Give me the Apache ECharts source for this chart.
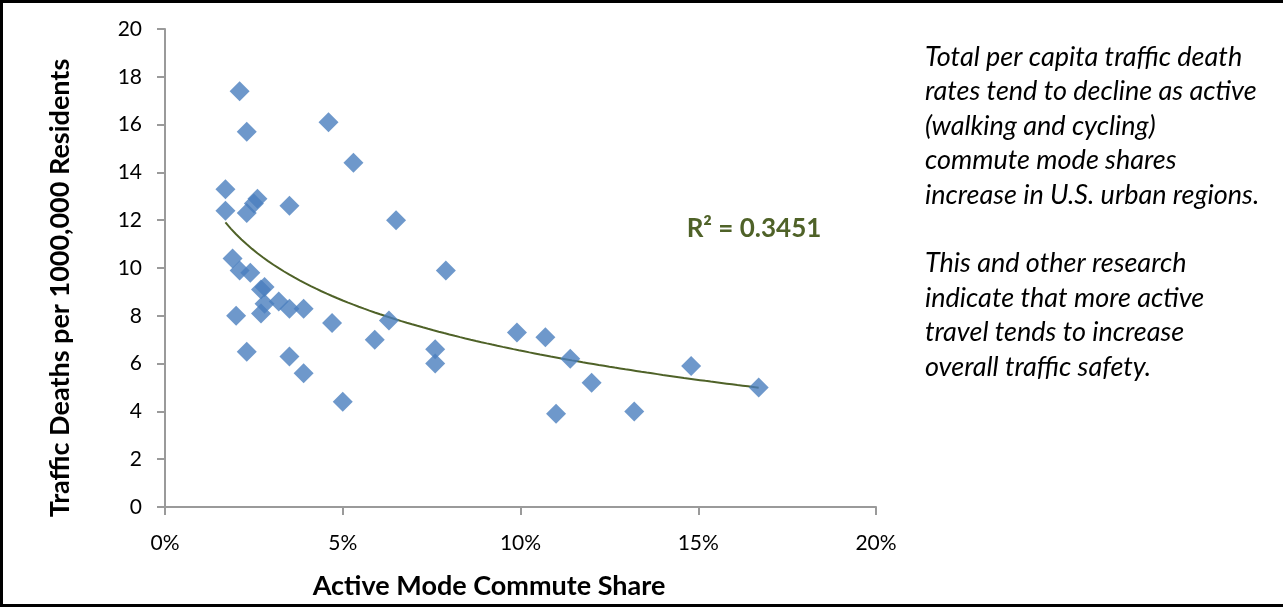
<!DOCTYPE html>
<html>
<head>
<meta charset="utf-8">
<script src="https://cdn.jsdelivr.net/npm/echarts@6/dist/echarts.min.js"></script>
<style>
html,body{margin:0;padding:0;background:#fff;}
#chart{width:1283px;height:609px;}
</style>
</head>
<body>
<div id="chart"></div>
<script>
// Active mode commute share (%) and traffic deaths per 1,000,000 residents
const shareValues = [2.1,2.3,4.6,5.3,1.7,1.7,2.6,2.5,2.3,3.5,6.5,1.9,2.1,2.4,2.8,2.7,7.9,2.8,3.2,3.5,3.9,2.7,2.0,4.7,6.3,5.9,2.3,3.5,3.9,5.0,9.9,10.7,7.6,7.6,11.4,12.0,11.0,13.2,14.8,16.7];
const deathValues = [17.4,15.7,16.1,14.4,13.3,12.4,12.9,12.7,12.3,12.6,12.0,10.4,9.9,9.8,9.2,9.1,9.9,8.5,8.6,8.3,8.3,8.1,8.0,7.7,7.8,7.0,6.5,6.3,5.6,4.4,7.3,7.1,6.6,6.0,6.2,5.2,3.9,4.0,5.9,5.0];
const xTicks = [0,5,10,15,20];
const yTicks = [0,2,4,6,8,10,12,14,16,18,20];
const rSquaredLabel = 'R² = 0.3451';
const yTitle = 'Traffic Deaths per 1000,000 Residents';
const xTitle = 'Active Mode Commute Share';
const noteLines = [
  'Total per capita traffic death',
  'rates tend to decline as active',
  '(walking and cycling)',
  'commute mode shares',
  'increase in U.S. urban regions.',
  '',
  'This and other research',
  'indicate that more active',
  'travel tends to increase',
  'overall traffic safety.'
];

const points = shareValues.map((x, i) => [x, deathValues[i]]);

// logarithmic least-squares trendline y = a*ln(x) + b, computed from the data
const n = points.length;
let sx = 0, sy = 0, sxx = 0, sxy = 0;
points.forEach(([x, y]) => { const l = Math.log(x); sx += l; sy += y; sxx += l*l; sxy += l*y; });
const a = (n*sxy - sx*sy) / (n*sxx - sx*sx);
const b = (sy - a*sx) / n;
const xMin = Math.min(...shareValues), xMax = Math.max(...shareValues);
const trend = [];
for (let i = 0; i <= 100; i++) {
  const x = xMin + (xMax - xMin) * i / 100;
  trend.push([x, a*Math.log(x) + b]);
}

const FONT = 'Lato';
const chart = echarts.init(document.getElementById('chart'), null, {renderer: 'canvas'});
chart.setOption({
  backgroundColor: '#fff',
  animation: false,
  grid: {left: 165, right: 407, top: 29, bottom: 102},
  xAxis: {
    type: 'value', min: 0, max: 20, interval: 5,
    splitLine: {show: false},
    axisLine: {show: true, lineStyle: {color: '#9a9a9a', width: 2}},
    axisTick: {show: true, length: 8, lineStyle: {color: '#9a9a9a', width: 2}},
    axisLabel: {margin: 26, fontFamily: FONT, fontSize: 21, color: '#000', formatter: v => xTicks.includes(v) ? v + '%' : ''}
  },
  yAxis: {
    type: 'value', min: 0, max: 20, interval: 2,
    splitLine: {show: false},
    axisLine: {show: true, lineStyle: {color: '#9a9a9a', width: 2}},
    axisTick: {show: true, length: 8, lineStyle: {color: '#9a9a9a', width: 2}},
    axisLabel: {margin: 23, fontFamily: FONT, fontSize: 21, color: '#000', formatter: v => yTicks.includes(v) ? String(v) : ''}
  },
  series: [
    {
      type: 'line', data: trend, showSymbol: false, symbol: 'none', smooth: false,
      lineStyle: {color: '#4F6228', width: 2}, z: 1
    },
    {
      type: 'scatter', data: points, symbol: 'diamond', symbolSize: 20,
      itemStyle: {color: '#4A7EBE'}, z: 2
    }
  ],
  graphic: [
    {type: 'rect', shape: {x: 1.5, y: 1.5, width: 1300, height: 604}, style: {fill: 'none', stroke: '#000', lineWidth: 3}, silent: true},
    {type: 'text', x: 60, y: 288, rotation: Math.PI/2, style: {text: yTitle, font: 'bold 27px ' + FONT, fill: '#000', textAlign: 'center', textVerticalAlign: 'middle'}},
    {type: 'text', x: 489, y: 586, style: {text: xTitle, font: 'bold 27px ' + FONT, fill: '#000', textAlign: 'center', textVerticalAlign: 'middle'}},
    {type: 'text', x: 754, y: 229, style: {text: rSquaredLabel, font: 'bold 26px ' + FONT, fill: '#4F6228', textAlign: 'center', textVerticalAlign: 'middle'}},
    {type: 'text', x: 925, y: 40, style: {text: noteLines.join('\n'), font: 'italic 27px ' + FONT, lineHeight: 34.4, fill: '#000', textAlign: 'left', textVerticalAlign: 'top'}}
  ]
});
</script>
</body>
</html>
